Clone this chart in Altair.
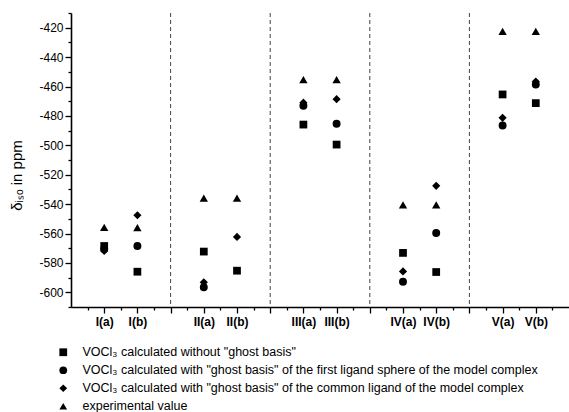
import altair as alt
import pandas as pd

categories = ["I(a)", "I(b)", "II(a)", "II(b)", "III(a)", "III(b)", "IV(a)", "IV(b)", "V(a)", "V(b)"]
no_ghost = [-568.5, -586.0, -572.3, -585.3, -485.9, -499.5, -573.2, -586.2, -465.4, -471.3]
ghost_sphere = [-570.5, -568.5, -596.6, None, -473.1, -485.4, -592.8, -559.6, -486.5, -458.6]
ghost_common = [-571.9, -547.6, -593.2, -562.3, -471.0, -468.6, -585.8, -527.6, -481.3, -456.6]
experimental = [-555.8, -556.0, -536.0, -536.0, -455.4, -455.4, -540.5, -540.5, -422.5, -422.5]
series_names = [
    'VOCl\u2083 calculated without "ghost basis"',
    'VOCl\u2083 calculated with "ghost basis" of the first ligand sphere of the model complex',
    'VOCl\u2083 calculated with "ghost basis" of the common ligand of the model complex',
    'experimental value',
]
shapes = ["square", "circle", "diamond", "triangle-up"]
sizes = [60, 70, 100, 95]
dividers = [3, 6, 9, 12]

rows = []
positions = []
for i, c in enumerate(categories):
    pos = (i // 2) * 3 + (i % 2) + 1
    positions.append(pos)
    for k, (name, vals) in enumerate(zip(series_names, [no_ghost, ghost_sphere, ghost_common, experimental])):
        if vals[i] is not None:
            rows.append({"pos": pos, "cat": c, "series": name, "sz": shapes[k], "value": vals[i]})
df = pd.DataFrame(rows)
div_df = pd.DataFrame({"d": dividers})

FONT = "Liberation Sans"
x_scale = alt.Scale(domain=[0, 15], nice=False, zero=False)
y_scale = alt.Scale(domain=[-610, -410], nice=False, zero=False)

label_expr = " : ".join(f"datum.value === {p} ? '{c}'" for p, c in zip(positions, categories)) + " : ''"
x_values = [k / 2 for k in range(1, 30)]
y_values = list(range(-610, -409, 10))

x_axis = alt.Axis(
    values=x_values,
    labelExpr=label_expr,
    tickSize={"condition": {"test": "datum.value % 1 === 0", "value": 6}, "value": 3},
    labelFontWeight="bold",
    labelFontSize=12,
    labelPadding=3,
    title=None,
    grid=False,
    labelOverlap=False,
)
y_axis = alt.Axis(
    values=y_values,
    labelExpr="datum.value % 20 === 0 ? '-' + abs(datum.value) : ''",
    tickSize={"condition": {"test": "datum.value % 20 === 0", "value": 6}, "value": 3},
    labelFontSize=12,
    title="\u03b4\u1d62\u209b\u2092 in ppm",
    titleFontSize=15,
    titleFontWeight="normal",
    titleX=-50,
    titleY=162,
    titleAlign="center",
    titleBaseline="alphabetic",
    grid=False,
    labelPadding=2,
    labelOverlap=False,
)

rules = alt.Chart(div_df).mark_rule(strokeDash=[4, 3], color="#444444", strokeWidth=1).encode(
    x=alt.X("d:Q", scale=x_scale, axis=x_axis)
)

points = alt.Chart(df).mark_point(filled=True, opacity=1, color="black").encode(
    x=alt.X("pos:Q", scale=x_scale, axis=x_axis),
    y=alt.Y("value:Q", scale=y_scale, axis=y_axis),
    shape=alt.Shape(
        "series:N",
        scale=alt.Scale(domain=series_names, range=shapes),
        legend=alt.Legend(
            orient="none",
            legendX=-14,
            legendY=333,
            title=None,
            labelFontSize=12.5,
            labelFont=FONT,
            labelColor="black",
            labelLimit=700,
            symbolSize=60,
            symbolFillColor="black",
            symbolStrokeWidth=0,
            rowPadding=5,
            padding=0,
            labelOffset=13,
        ),
    ),
    size=alt.Size("sz:N", scale=alt.Scale(domain=shapes, range=sizes), legend=None),
)

chart = alt.layer(rules, points).properties(
    width=498,
    height=294,
    background="white",
    autosize=alt.AutoSizeParams(type="none"),
    padding={"left": 71, "top": 13, "right": 0, "bottom": 105},
).configure_view(stroke=None).configure_axis(
    domainColor="black",
    domainWidth=1.6,
    tickColor="black",
    tickWidth=1.3,
    labelFont=FONT,
    labelColor="black",
    titleFont=FONT,
    titleFontSize=15,
    titleColor="black",
)

chart.save("out.html", embed_options={"renderer": "svg", "actions": False})
